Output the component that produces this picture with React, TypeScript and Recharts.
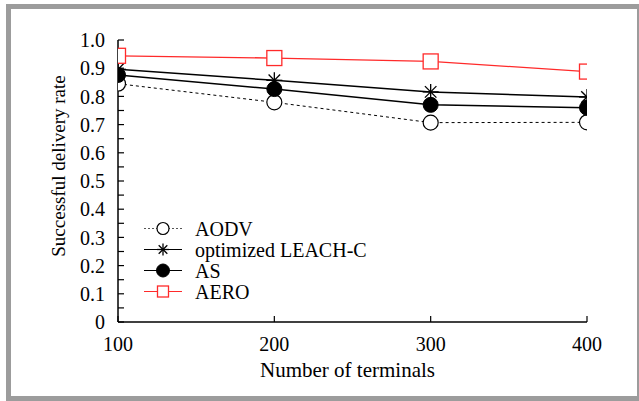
import React from 'react';
import { LineChart, Line, XAxis, YAxis, Legend } from 'recharts';

const terminals = [100, 200, 300, 400];
const aodv = [0.845, 0.779, 0.707, 0.708];
const leachC = [0.896, 0.857, 0.816, 0.798];
const asRate = [0.876, 0.826, 0.77, 0.76];
const aero = [0.944, 0.936, 0.924, 0.888];

const seriesNames = ['AODV', 'optimized LEACH-C', 'AS', 'AERO'];
const yTicks = [0, 0.05, 0.1, 0.15, 0.2, 0.25, 0.3, 0.35, 0.4, 0.45, 0.5, 0.55, 0.6, 0.65, 0.7, 0.75, 0.8, 0.85, 0.9, 0.95, 1.0];
const yLabels = ['0', '0.1', '0.2', '0.3', '0.4', '0.5', '0.6', '0.7', '0.8', '0.9', '1.0'];

const data = terminals.map((t, i) => ({
  t,
  aodv: aodv[i],
  leach: leachC[i],
  as: asRate[i],
  aero: aero[i],
}));

const FONT = '"Liberation Serif", "Times New Roman", serif';
const RED = '#ff2a2a';

const fmtY = (v: number) => {
  const idx = Math.round(v * 20);
  if (idx % 2 !== 0) return '';
  return yLabels[idx / 2];
};

const OpenCircle = (r: number) => (props: any) => {
  const { cx, cy, index } = props;
  if (cx == null || cy == null) return <g key={index} />;
  return <circle key={index} cx={cx} cy={cy} r={r} fill="#fff" stroke="#000" strokeWidth={1.2} />;
};
const FilledCircle = (r: number) => (props: any) => {
  const { cx, cy, index } = props;
  if (cx == null || cy == null) return <g key={index} />;
  return <circle key={index} cx={cx} cy={cy} r={r} fill="#000" stroke="#000" strokeWidth={1} />;
};
const Star = (s: number) => (props: any) => {
  const { cx, cy, index } = props;
  if (cx == null || cy == null) return <g key={index} />;
  const d = s * 0.72;
  return (
    <g key={index} stroke="#000" strokeWidth={1.3}>
      <line x1={cx - s} y1={cy} x2={cx + s} y2={cy} />
      <line x1={cx} y1={cy - s} x2={cx} y2={cy + s} />
      <line x1={cx - d} y1={cy - d} x2={cx + d} y2={cy + d} />
      <line x1={cx - d} y1={cy + d} x2={cx + d} y2={cy - d} />
    </g>
  );
};
const Square = (h: number) => (props: any) => {
  const { cx, cy, index } = props;
  if (cx == null || cy == null) return <g key={index} />;
  return <rect key={index} x={cx - h} y={cy - h} width={2 * h} height={2 * h} fill="#fff" stroke={RED} strokeWidth={1.3} />;
};

const legendMarkers = [OpenCircle(6), Star(6), FilledCircle(6.5), Square(5.5)];
const legendStroke = ['#555', '#000', '#000', RED];
const legendDash = ['2 2', undefined, undefined, undefined];

const LegendContent = () => (
  <div style={{ fontFamily: FONT, fontSize: 20, color: '#000' }}>
    {seriesNames.map((name, i) => (
      <div key={name} style={{ display: 'flex', alignItems: 'center', height: 21, overflow: 'visible' }}>
        <svg width={55} height={21} style={{ display: 'block' }}>
          <line x1={4} y1={10.5} x2={42} y2={10.5} stroke={legendStroke[i]} strokeWidth={1.2} strokeDasharray={legendDash[i]} />
          {legendMarkers[i]({ cx: 23, cy: 10.5, index: 0 })}
        </svg>
        <span style={{ lineHeight: '18px', height: 18, whiteSpace: 'nowrap', display: 'inline-block' }}>{name}</span>
      </div>
    ))}
  </div>
);

const XLabel = (props: any) => {
  const { viewBox } = props;
  const cx = viewBox.x + viewBox.width / 2 - 5;
  return (
    <text x={cx} y={377} textAnchor="middle" fontFamily={FONT} fontSize={21} fill="#000">
      Number of terminals
    </text>
  );
};

const YLabel = (props: any) => {
  const { viewBox } = props;
  const cy = viewBox.y + viewBox.height / 2 - 15;
  return (
    <text x={58} y={cy} transform={`rotate(-90, 58, ${cy})`} textAnchor="middle" dominantBaseline="central" fontFamily={FONT} fontSize={19} fill="#000">
      Successful delivery rate
    </text>
  );
};

export default function App() {
  return (
    <div style={{ position: 'absolute', left: 0, top: 0, width: 639, height: 401, background: '#fff', overflow: 'hidden' }}>
      <div
        style={{
          position: 'absolute',
          left: 6,
          top: 4,
          width: 636,
          height: 397,
          borderTop: '5px solid #9c9c9c',
          borderLeft: '5px solid #9c9c9c',
          borderRight: '5px solid #9c9c9c',
          borderBottom: '5px solid #9c9c9c',
          boxSizing: 'border-box',
        }}
      />
      <div style={{ position: 'absolute', left: 0, top: 0 }}>
        <LineChart width={639} height={401} data={data} margin={{ top: 40, right: 52, bottom: 19, left: 50 }}>
          <XAxis
            dataKey="t"
            type="number"
            domain={[100, 400]}
            ticks={terminals}
            allowDataOverflow
            height={60}
            tickSize={-6}
            tickMargin={21}
            tick={{ fontFamily: FONT, fontSize: 20, fill: '#000' }}
            axisLine={{ stroke: '#000', strokeWidth: 1.5 }}
            tickLine={{ stroke: '#000', strokeWidth: 1.2 }}
            label={<XLabel />}
          />
          <XAxis
            xAxisId="top"
            orientation="top"
            type="number"
            domain={[100, 400]}
            ticks={terminals}
            allowDataOverflow
            height={0}
            tickSize={-6}
            tick={false}
            axisLine={{ stroke: '#000', strokeWidth: 1.5 }}
            tickLine={{ stroke: '#000', strokeWidth: 1.2 }}
          />
          <YAxis
            type="number"
            domain={[0, 1]}
            ticks={yTicks}
            interval={0}
            allowDataOverflow
            width={68}
            tickSize={-6}
            tickMargin={19}
            tickFormatter={fmtY}
            tick={{ fontFamily: FONT, fontSize: 20, fill: '#000' }}
            axisLine={{ stroke: '#000', strokeWidth: 1.5 }}
            tickLine={{ stroke: '#000', strokeWidth: 1.2 }}
            label={<YLabel />}
          />
          <YAxis
            yAxisId="right"
            orientation="right"
            type="number"
            domain={[0, 1]}
            ticks={yTicks}
            interval={0}
            allowDataOverflow
            width={0}
            tickSize={-6}
            tick={false}
            axisLine={{ stroke: '#000', strokeWidth: 1.5 }}
            tickLine={{ stroke: '#000', strokeWidth: 1.2 }}
          />
          <Legend
            layout="vertical"
            align="center"
            verticalAlign="middle"
            content={<LegendContent />}
            wrapperStyle={{ left: 140, top: 218, width: 260, height: 84 }}
          />
          <Line type="linear" dataKey="aodv" name="AODV" stroke="#000" strokeWidth={1} strokeDasharray="3 3" dot={OpenCircle(7.5)} isAnimationActive={false} />
          <Line type="linear" dataKey="leach" name="optimized LEACH-C" stroke="#000" strokeWidth={1.5} dot={Star(8)} isAnimationActive={false} />
          <Line type="linear" dataKey="as" name="AS" stroke="#000" strokeWidth={1.5} dot={FilledCircle(7.5)} isAnimationActive={false} />
          <Line type="linear" dataKey="aero" name="AERO" stroke={RED} strokeWidth={1.3} dot={Square(7.5)} isAnimationActive={false} />
        </LineChart>
      </div>
    </div>
  );
}
